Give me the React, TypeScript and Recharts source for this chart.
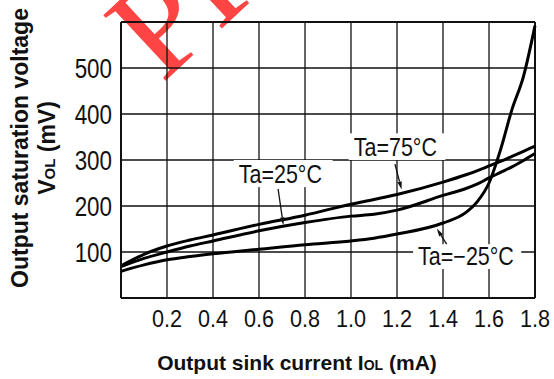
import React from 'react';
import { LineChart, Line, XAxis, YAxis, CartesianGrid, ReferenceLine, ReferenceArea } from 'recharts';

// output sink current (mA)
const currents = [0, 0.1, 0.2, 0.3, 0.4, 0.6, 0.8, 1.0, 1.1, 1.2, 1.4, 1.5, 1.55, 1.6, 1.65, 1.7, 1.75, 1.8];
// output saturation voltage (mV)
const vol75 = [70, 95, 113, 126, 137, 160, 180, 204, 214, 225, 252, 268, 277, 287, 297, 308, 319, 330];
const vol25 = [68, 86, 100, 113, 124, 146, 164, 178, 182, 191, 223, 238, 248, 261, 273, 285, 299, 314];
const volMinus25 = [58, 72, 83, 90, 96, 106, 116, 124, 130, 139, 163, 186, 210, 250, 322, 410, 482, 592];

const xTicks = [0.2, 0.4, 0.6, 0.8, 1.0, 1.2, 1.4, 1.6, 1.8];
const yTicks = [100, 200, 300, 400, 500];

const seriesNames = ['Ta=75°C', 'Ta=25°C', 'Ta=\u221225°C'];

const data = currents.map((c, i) => ({
  current: c,
  t75: vol75[i],
  t25: vol25[i],
  tm25: volMinus25[i],
}));

const SANS = '"Liberation Sans", Arial, Helvetica, sans-serif';

// label boxes in data units, text sits at the bottom-left
const labelBoxes = [
  { name: seriesNames[0], x1: 0.99, x2: 1.41, y1: 300, y2: 358 },
  { name: seriesNames[1], x1: 0.49, x2: 0.92, y1: 241, y2: 300 },
  { name: seriesNames[2], x1: 1.27, x2: 1.74, y1: 63, y2: 117 },
];

// leader arrows: from -> tip
const arrows = [
  { from: [1.191, 291], to: [1.22, 236] },
  { from: [0.683, 237], to: [0.706, 158] },
  { from: [1.416, 117], to: [1.373, 151] },
];

const BoxShape = (props: any) => {
  const { x, y, width, height, text } = props;
  return (
    <g>
      <rect x={x} y={y} width={width} height={height} fill="#fff" />
      <g transform={`translate(${x + 5},${y + height - 4})`}>
        <text transform="scale(0.86,1)" fontFamily={SANS} fontSize={25} fill="#111">
          {text}
        </text>
      </g>
    </g>
  );
};

const ArrowShape = (props: any) => {
  const { x1, y1, x2, y2 } = props;
  const ang = Math.atan2(y2 - y1, x2 - x1);
  const len = 8;
  const w = 2.2;
  const bx = x2 - len * Math.cos(ang);
  const by = y2 - len * Math.sin(ang);
  const px = -Math.sin(ang) * w;
  const py = Math.cos(ang) * w;
  return (
    <g>
      <line x1={x1} y1={y1} x2={bx} y2={by} stroke="#111" strokeWidth={1.3} />
      <polygon points={`${x2},${y2} ${bx + px},${by + py} ${bx - px},${by - py}`} fill="#111" />
    </g>
  );
};

const YTick = (props: any) => {
  const { x, y, payload } = props;
  return (
    <g transform={`translate(${x},${y})`}>
      <text transform="scale(0.8,1)" textAnchor="end" dy="0.36em" fontFamily={SANS} fontSize={28} fill="#111">
        {payload.value}
      </text>
    </g>
  );
};

const XTick = (props: any) => {
  const { x, y, payload } = props;
  return (
    <g transform={`translate(${x},${y})`}>
      <text transform="scale(0.9,1)" textAnchor="middle" dy="0.71em" fontFamily={SANS} fontSize={24} fill="#111">
        {Number(payload.value).toFixed(1)}
      </text>
    </g>
  );
};

const YTitle = () => (
  <g fontFamily={SANS} fontWeight="bold" fill="#111">
    <text x={0} y={0} transform="translate(28,148) rotate(-90)" textAnchor="middle" fontSize={23}>
      Output saturation voltage
    </text>
    <text x={0} y={0} transform="translate(55,148) rotate(-90)" textAnchor="middle" fontSize={23}>
      V<tspan fontSize={15}>OL</tspan> (mV)
    </text>
  </g>
);

const XTitle = () => (
  <text x={297} y={370} textAnchor="middle" fontFamily={SANS} fontWeight="bold" fontSize={21} fill="#111">
    Output sink current I<tspan fontSize={14}>OL</tspan> (mA)
  </text>
);

export default function App() {
  return (
    <div style={{ position: 'absolute', left: 0, top: 0, width: 554, height: 379, background: '#fff' }}>
      <svg width={554} height={379} style={{ position: 'absolute', left: 0, top: 0 }}>
        <text
          x={162}
          y={84}
          transform="rotate(-43, 162, 84)"
          fontFamily='"Liberation Serif", "Times New Roman", serif'
          fontSize={138}
          fill="#ff3030"
          opacity={0.9}
        >
          PR
        </text>
      </svg>
      <div style={{ position: 'absolute', left: 0, top: 0 }}>
        <LineChart width={554} height={379} data={data} margin={{ top: 22, right: 19, bottom: 0, left: 0 }}>
          <CartesianGrid stroke="#111" strokeWidth={1.3} />
          <XAxis
            dataKey="current"
            type="number"
            domain={[0, 1.8]}
            ticks={xTicks}
            height={81}
            tickSize={0}
            tickMargin={12}
            axisLine={{ stroke: '#111', strokeWidth: 2 }}
            tick={<XTick />}
            interval={0}
            label={<XTitle />}
          />
          <YAxis
            type="number"
            domain={[0, 600]}
            ticks={yTicks}
            width={121}
            tickSize={0}
            tickMargin={9}
            axisLine={{ stroke: '#111', strokeWidth: 2 }}
            tick={<YTick />}
            interval={0}
            label={<YTitle />}
          />
          <ReferenceLine y={600} stroke="#111" strokeWidth={2} />
          <ReferenceLine x={1.8} stroke="#111" strokeWidth={2} />
          {labelBoxes.map((b) => (
            <ReferenceArea
              key={b.name}
              x1={b.x1}
              x2={b.x2}
              y1={b.y1}
              y2={b.y2}
              shape={(p: any) => <BoxShape {...p} text={b.name} />}
            />
          ))}
          <Line type="monotone" dataKey="t75" name={seriesNames[0]} stroke="#000" strokeWidth={3} dot={false} isAnimationActive={false} />
          <Line type="monotone" dataKey="t25" name={seriesNames[1]} stroke="#000" strokeWidth={3} dot={false} isAnimationActive={false} />
          <Line type="monotone" dataKey="tm25" name={seriesNames[2]} stroke="#000" strokeWidth={3} dot={false} isAnimationActive={false} />
          {arrows.map((a, i) => (
            <ReferenceLine
              key={i}
              segment={[{ x: a.from[0], y: a.from[1] }, { x: a.to[0], y: a.to[1] }]}
              shape={(p: any) => <ArrowShape {...p} />}
            />
          ))}
        </LineChart>
      </div>
    </div>
  );
}
